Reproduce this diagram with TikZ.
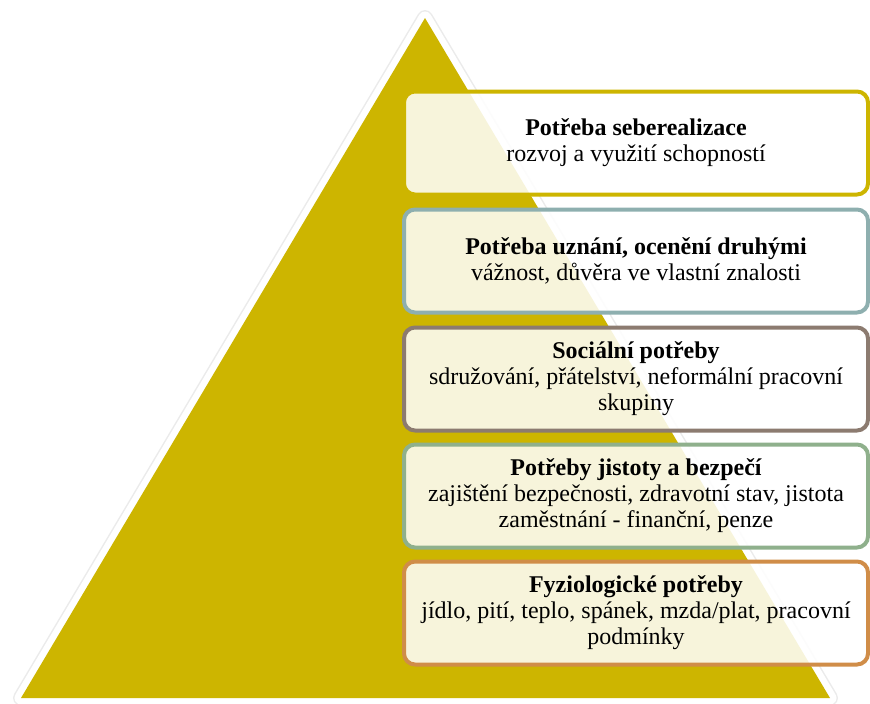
\documentclass[tikz,border=0pt]{standalone}
\usepackage{fontspec}
\setmainfont{Liberation Serif}
\definecolor{gold}{HTML}{CDB500}
\definecolor{cbA}{HTML}{CDB500}
\definecolor{cbB}{HTML}{8EAFAF}
\definecolor{cbC}{HTML}{8C7B70}
\definecolor{cbD}{HTML}{8FB08C}
\definecolor{cbE}{HTML}{D08D48}
\begin{document}
\begin{tikzpicture}[x=1pt,y=-1pt,
  needbox/.style={draw, line width=4pt, rounded corners=11pt, fill=white, fill opacity=0.86, text opacity=1,
    minimum width=464pt, minimum height=103pt, align=center, font=\fontsize{24}{26}\selectfont, inner sep=0pt}]
\useasboundingbox (0,0) rectangle (870,704);
% triangle with white border and soft shadow
\coordinate (apex) at (425,18);
\coordinate (bl) at (21,698);
\coordinate (br) at (830,698);
\draw[line width=16pt, black!8, line join=round] (apex) -- (bl) -- (br) -- cycle;
\draw[line width=13pt, white, line join=round] (apex) -- (bl) -- (br) -- cycle;
\fill[gold] (apex) -- (bl) -- (br) -- cycle;
% boxes
\node[needbox, draw=cbA] (n1) at (636,143) {{\bfseries Potřeba seberealizace}\\rozvoj a využití schopností};
\node[needbox, draw=cbB] (n2) at (636,261) {{\bfseries Potřeba uznání, ocenění druhými}\\vážnost, důvěra ve vlastní znalosti};
\node[needbox, draw=cbC] (n3) at (636,379) {{\bfseries Sociální potřeby}\\sdružování, přátelství, neformální pracovní\\skupiny};
\node[needbox, draw=cbD] (n4) at (636,496) {{\bfseries Potřeby jistoty a bezpečí}\\zajištění bezpečnosti, zdravotní stav, jistota\\zaměstnání - finanční, penze};
\node[needbox, draw=cbE] (n5) at (636,613) {{\bfseries Fyziologické potřeby}\\jídlo, pití, teplo, spánek, mzda/plat, pracovní\\podmínky};
\end{tikzpicture}
\end{document}
